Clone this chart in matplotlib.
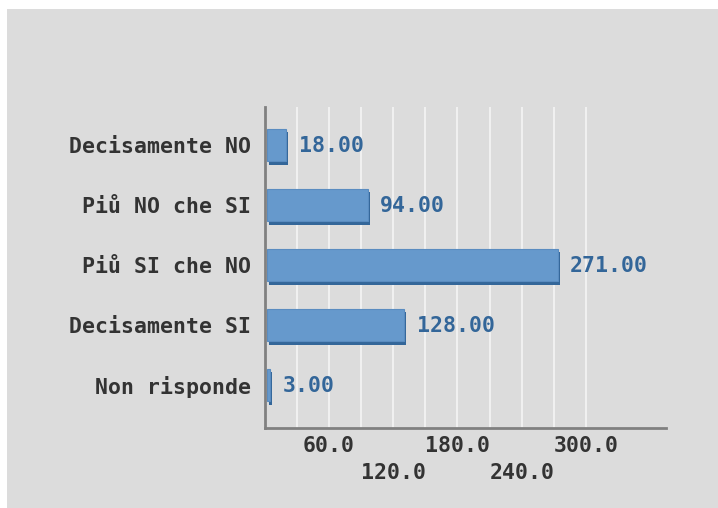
import matplotlib
matplotlib.use("Agg")
import matplotlib.pyplot as plt
import matplotlib.transforms as mtransforms
from matplotlib.patches import Rectangle
import numpy as np

categories = ["Decisamente NO", "Piů NO che SI", "Piů SI che NO", "Decisamente SI", "Non risponde"]
values = [18, 94, 271, 128, 3]
ticks_upper = [60, 180, 300]
ticks_lower = [120, 240]
grid_at = [30, 60, 90, 120, 150, 180, 210, 240, 270, 300]

bg = "#dcdcdc"
face = "#6699cc"
shade = "#336699"
label_col = "#336699"
text_col = "#333333"
fs = 15.5

plt.rcParams['font.family'] = ['DejaVu Sans Mono']
plt.rcParams['font.weight'] = 'bold'

fig = plt.figure(figsize=(7.18, 5.08), dpi=100)
fig.patch.set_facecolor("white")
# grey panel, thin white margin top and left
fig.patches.append(Rectangle((7 / 718, 0), 1, 1 - 9 / 508, transform=fig.transFigure,
                             facecolor=bg, edgecolor="none", zorder=-10))

ax = fig.add_axes([264.5 / 718, 80 / 508, (666 - 264.5) / 718, 321 / 508])
ax.set_facecolor(bg)

for g in grid_at:
    ax.axvline(g, color="#f0f0f0", lw=1.5, zorder=1)

y = np.arange(len(categories))
# bars sit a couple of pixels off the axis line, shadow below/right for the 3D look
px = 1 / 100
face_tr = ax.transData + mtransforms.ScaledTranslation(2.5 * px, 0, fig.dpi_scale_trans)
shadow_tr = ax.transData + mtransforms.ScaledTranslation(4.5 * px, -3.5 * px, fig.dpi_scale_trans)
ax.barh(y, values, height=0.54, color=shade, transform=shadow_tr, zorder=2)
ax.barh(y, values, height=0.54, color=face, edgecolor="#5a8cc0", lw=0.8,
        transform=face_tr, zorder=3)

for yi, v in zip(y, values):
    ax.annotate(f"{v:.2f}", (v, yi), xytext=(15, -1), textcoords="offset pixels",
                ha="left", va="center", color=label_col, fontsize=fs, fontweight="bold")

ax.set_xlim(0, 374.5)
ax.set_ylim(4 + 0.717, -0.633)
ax.set_yticks(y)
ax.set_yticklabels(categories)

ax.set_xticks(ticks_upper)
ax.set_xticklabels([f"{t:.1f}" for t in ticks_upper])
ax.set_xticks(ticks_lower, minor=True)
ax.set_xticklabels([f"{t:.1f}" for t in ticks_lower], minor=True)

ax.tick_params(axis="y", length=0, pad=10, labelsize=fs, labelcolor=text_col)
ax.tick_params(axis="x", which="major", length=0, pad=6, labelsize=fs, labelcolor=text_col)
ax.tick_params(axis="x", which="minor", length=0, pad=25.5, labelsize=fs, labelcolor=text_col)

for s in ["top", "right"]:
    ax.spines[s].set_visible(False)
for s in ["left", "bottom"]:
    ax.spines[s].set_color("#808080")
    ax.spines[s].set_linewidth(2)
    ax.spines[s].set_zorder(5)

fig.savefig("out.png", dpi=100)
